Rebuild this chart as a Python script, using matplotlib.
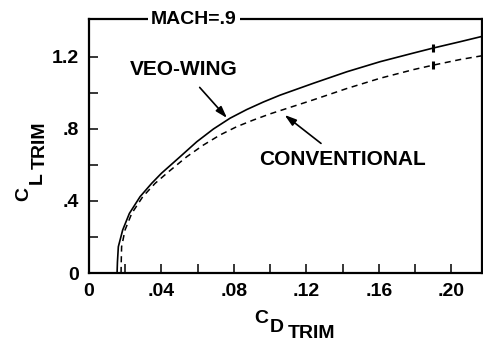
import matplotlib
matplotlib.use("Agg")
import matplotlib.pyplot as plt

plt.rcParams["font.family"] = ["Liberation Sans Narrow", "Liberation Sans", "DejaVu Sans"]
plt.rcParams["font.weight"] = "bold"

# values
veo_cd = [0.0155, 0.0157, 0.0162, 0.0186, 0.0223, 0.0282, 0.0346, 0.0400,
          0.0503, 0.0595, 0.0687, 0.0779, 0.0871, 0.0963, 0.1055, 0.1239,
          0.1424, 0.1608, 0.1792, 0.1902, 0.2050, 0.2177]
veo_cl = [0.0, 0.06, 0.146, 0.239, 0.331, 0.424, 0.498, 0.554,
          0.646, 0.729, 0.800, 0.860, 0.908, 0.950, 0.988, 1.054,
          1.118, 1.174, 1.222, 1.250, 1.285, 1.316]

conv_cd = [0.0177, 0.0178, 0.0180, 0.0199, 0.0236, 0.0297, 0.0365, 0.0440,
           0.0540, 0.0632, 0.0724, 0.0816, 0.0908, 0.1000, 0.1239, 0.1424,
           0.1608, 0.1792, 0.1902, 0.2050, 0.2177]
conv_cl = [0.0, 0.06, 0.146, 0.239, 0.331, 0.424, 0.498, 0.563,
           0.646, 0.711, 0.767, 0.813, 0.850, 0.884, 0.962, 1.025,
           1.082, 1.130, 1.155, 1.186, 1.208]

# small marks drawn across each curve
mark_cd = 0.190
veo_mark_cl = 1.250
conv_mark_cl = 1.155

x_ticks = [0, 0.02, 0.04, 0.06, 0.08, 0.10, 0.12, 0.14, 0.16, 0.18, 0.20]
x_labels = ["0", "", ".04", "", ".08", "", ".12", "", ".16", "", ".20"]
y_ticks = [0, 0.2, 0.4, 0.6, 0.8, 1.0, 1.2]
y_labels = ["0", "", ".4", "", ".8", "", "1.2"]

W, H = 483, 341
fig = plt.figure(figsize=(W / 100, H / 100), dpi=100)
ax = fig.add_axes([89 / W, 1 - 273 / H, 393 / W, 254 / H])

ax.plot(veo_cd, veo_cl, color="black", lw=1.2, solid_joinstyle="round")
ax.plot(conv_cd, conv_cl, color="black", lw=1.1, dashes=(4, 3))
ax.plot([mark_cd], [veo_mark_cl], marker="|", ms=6, mew=2.2, color="black")
ax.plot([mark_cd], [conv_mark_cl], marker="|", ms=6, mew=2.2, color="black")

ax.set_xlim(0, 0.217)
ax.set_ylim(0, 1.411)
ax.set_xticks(x_ticks)
ax.set_xticklabels(x_labels)
ax.set_yticks(y_ticks)
ax.set_yticklabels(y_labels)
ax.tick_params(direction="in", length=6.5, width=1.1, labelsize=14, pad=7)

for sp in ax.spines.values():
    sp.set_linewidth(1.6)

# annotations
arrow = dict(arrowstyle="-|>,head_length=0.7,head_width=0.22", color="black",
             lw=1.2, mutation_scale=10, shrinkA=5, shrinkB=0)
ax.text(0.058, 1.411, "MACH=.9", ha="center", va="center", fontsize=14,
        bbox=dict(facecolor="white", edgecolor="none", pad=2))
ax.annotate("VEO-WING", xy=(0.0762, 0.861), xytext=(0.0525, 1.128),
            ha="center", va="center", fontsize=15, arrowprops=arrow)
ax.annotate("CONVENTIONAL", xy=(0.108, 0.878), xytext=(0.1398, 0.628),
            ha="center", va="center", fontsize=15, arrowprops=arrow)


def put(px, py, s, rot=0):
    fig.text(px / W, 1 - py / H, s, fontsize=14, ha="center", va="baseline",
             rotation=rot, rotation_mode="anchor")


# stepped axis labels
put(261, 323, "C")
put(276.5, 332, "D")
put(311.5, 338, "TRIM")
put(28, 193.5, "C", rot=90)
put(42, 178.5, "L", rot=90)
put(45, 145, "TRIM", rot=90)

fig.savefig("out.png", dpi=100, facecolor="white")
